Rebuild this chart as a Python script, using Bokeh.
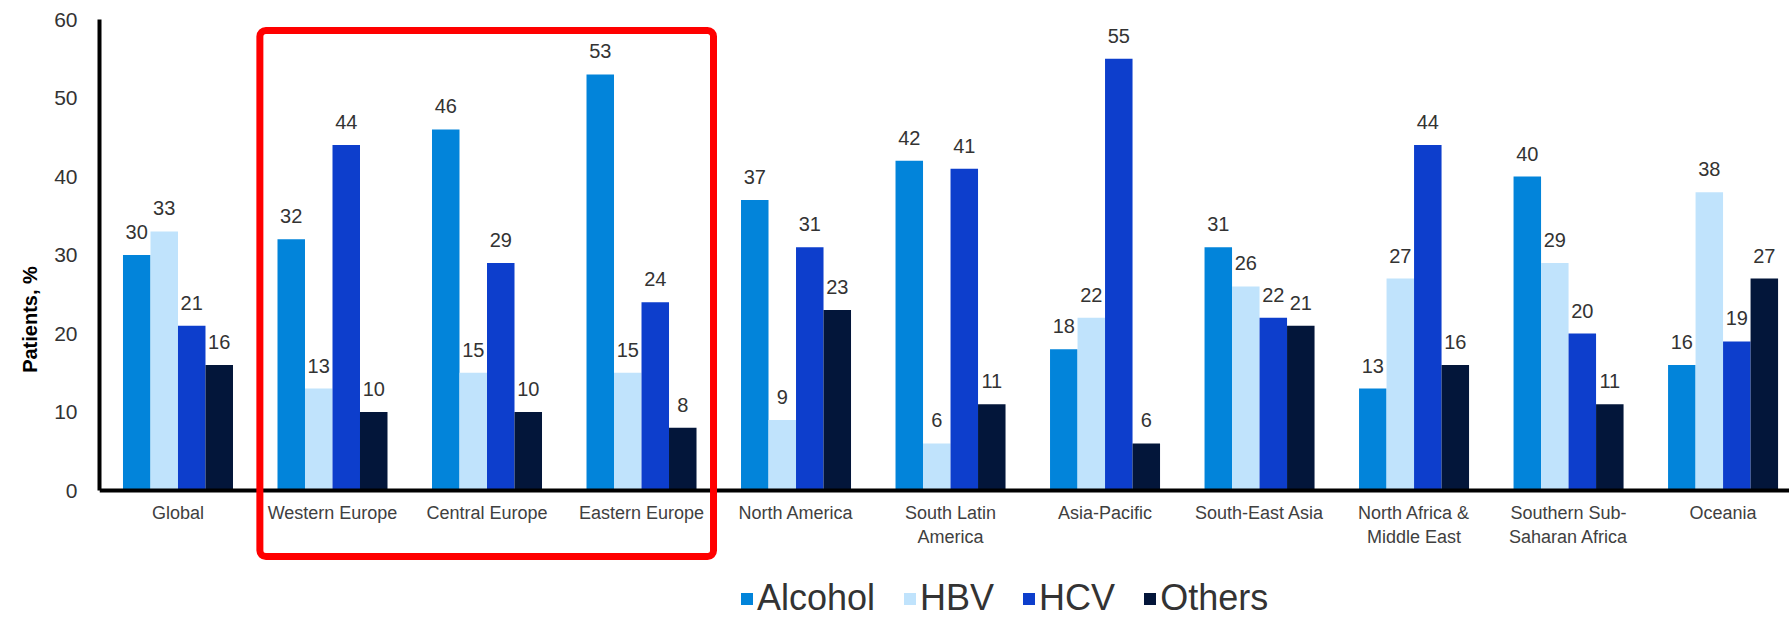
from bokeh.plotting import figure
from bokeh.models import (ColumnDataSource, FixedTicker, Legend, LegendItem,
                          BoxAnnotation, Range1d)
from bokeh.core.properties import value
from bokeh.embed import file_html
from bokeh.resources import INLINE

regions = ["Global", "Western Europe", "Central Europe", "Eastern Europe",
           "North America", "South Latin\nAmerica", "Asia-Pacific",
           "South-East Asia", "North Africa &\nMiddle East",
           "Southern Sub-\nSaharan Africa", "Oceania"]
series = ["Alcohol", "HBV", "HCV", "Others"]
alcohol = [30, 32, 46, 53, 37, 42, 18, 31, 13, 40, 16]
hbv = [33, 13, 15, 15, 9, 6, 22, 26, 27, 29, 38]
hcv = [21, 44, 29, 24, 31, 41, 55, 22, 44, 20, 19]
others = [16, 10, 10, 8, 23, 11, 6, 21, 16, 11, 27]
colors = ["#0284DA", "#C0E3FC", "#0D3ECC", "#03163A"]
highlighted = ["Western Europe", "Central Europe", "Eastern Europe"]
y_ticks = [0, 10, 20, 30, 40, 50, 60]

FONT = "Liberation Sans"
TEXT = "#333333"

# the frame runs down to the bottom of the page so the highlight box and the
# legend can sit below the zero line; the x axis is pinned at y = 0
p = figure(width=1789, height=619, output_backend="svg", toolbar_location=None,
           x_range=Range1d(-0.508, 10.43), y_range=Range1d(-16.42, 60),
           min_border_left=99, min_border_right=0, min_border_top=19,
           min_border_bottom=0)
p.outline_line_color = None
p.xgrid.visible = False
p.ygrid.visible = False

bar_w = 0.178
offsets = [-1.5 * bar_w, -0.5 * bar_w, 0.5 * bar_w, 1.5 * bar_w]
idx = list(range(len(regions)))
items = []
for name, vals, col, off in zip(series, [alcohol, hbv, hcv, others], colors, offsets):
    src = ColumnDataSource(dict(x=[i + off for i in idx], top=vals,
                                label=[str(v) for v in vals]))
    r = p.vbar(x="x", top="top", width=bar_w, bottom=0, source=src,
               fill_color=col, line_color=None)
    p.text(x="x", y="top", text="label", source=src, text_align="center",
           text_baseline="alphabetic", y_offset=-23, text_color=TEXT,
           text_font=value(FONT), text_font_size="20px")
    items.append(LegendItem(label=name, renderers=[r]))

# highlight frame around the European regions
first = regions.index(highlighted[0])
last = regions.index(highlighted[-1])
p.add_layout(BoxAnnotation(left=first - 0.47, right=last + 0.466, top=58.6,
                           bottom=-8.4, fill_color=None, fill_alpha=0,
                           line_color="#FF0000", line_alpha=1.0,
                           line_width=7, border_radius=6))

# axes
p.xaxis.fixed_location = 0
p.xaxis.ticker = FixedTicker(ticks=idx)
p.xaxis.major_label_overrides = {i: r for i, r in zip(idx, regions)}
p.xaxis.major_tick_line_color = None
p.xaxis.minor_tick_line_color = None
p.xaxis.axis_line_width = 4
p.xaxis.axis_line_color = "black"
p.xaxis.major_label_standoff = 6
p.xaxis.major_label_text_font = FONT
p.xaxis.major_label_text_font_size = "18px"
p.xaxis.major_label_text_color = "#404040"

p.yaxis.bounds = (0, 60)
p.yaxis.ticker = FixedTicker(ticks=y_ticks)
p.yaxis.major_tick_line_color = None
p.yaxis.minor_tick_line_color = None
p.yaxis.axis_line_width = 4
p.yaxis.axis_line_color = "black"
p.yaxis.major_label_standoff = 16
p.yaxis.major_label_text_font = FONT
p.yaxis.major_label_text_font_size = "21px"
p.yaxis.major_label_text_color = TEXT
p.yaxis.axis_label = "Patients, %"
p.yaxis.axis_label_text_font = FONT
p.yaxis.axis_label_text_font_size = "20px"
p.yaxis.axis_label_text_font_style = "bold"
p.yaxis.axis_label_text_color = "black"
p.yaxis.axis_label_standoff = 10

legend = Legend(items=items, orientation="horizontal", location=(640, 0),
                label_text_font=FONT, label_text_font_size="36px",
                label_text_color=TEXT, glyph_width=15, glyph_height=15,
                label_standoff=3, spacing=27, padding=0, margin=0,
                border_line_color=None, background_fill_alpha=0)
p.add_layout(legend, "center")

open("out.html", "w").write(file_html(p, INLINE))
